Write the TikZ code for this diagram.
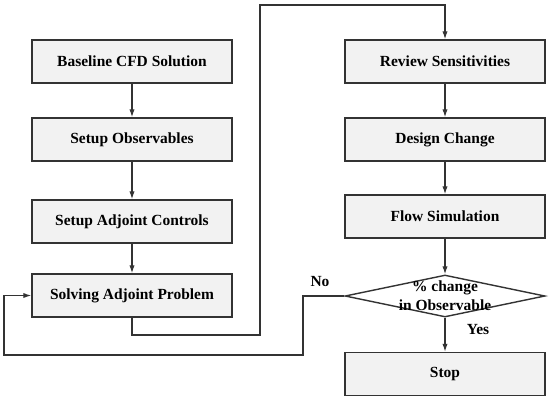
\documentclass[tikz,border=0pt]{standalone}
\usepackage{fontspec}
\setmainfont{Liberation Serif}
\usepackage{xcolor}
\usetikzlibrary{positioning,arrows.meta,shapes.geometric}

\definecolor{boxfill}{HTML}{F2F2F2}
\definecolor{linegray}{HTML}{333333}

\tikzset{
    stepbox/.style={draw=linegray, fill=boxfill, line width=1.2pt,
        minimum width=60mm, minimum height=12.9mm, inner sep=0pt,
        font=\fontsize{13.2pt}{16.2pt}\selectfont\bfseries},
    decision/.style={draw=linegray, fill=white, line width=1.2pt, diamond,
        minimum width=60mm, minimum height=12.6mm, inner sep=0pt},
    flow/.style={draw=linegray, line width=1.1pt,
        -{Latex[length=2.4mm,width=1.6mm]}},
    plain/.style={draw=linegray, line width=1.1pt},
    tag/.style={font=\fontsize{13.2pt}{16.2pt}\selectfont\bfseries}
}

\begin{document}
\begin{tikzpicture}[x=0.3mm, y=-0.3mm]
    \useasboundingbox (0,0) rectangle (550,403);

    \node[stepbox] (base) at (132,61.5) {Baseline CFD Solution};
    \node[stepbox] (obs) at (132,139.5) {Setup Observables};
    \node[stepbox] (ctrl) at (132,221.5) {Setup Adjoint Controls};
    \node[stepbox] (solve) at (132,295.5) {Solving Adjoint Problem};

    \node[stepbox] (review) at (445,61.5) {Review Sensitivities};
    \node[stepbox] (design) at (445,139.5) {Design Change};
    \node[stepbox] (sim) at (445,216.5) {Flow Simulation};
    \node[decision] (check) at (445,296) {};
    \node[tag, align=center] (checktxt) at (check.center) {\% change\\in Observable};
    \node[stepbox] (stop) at (445,374) {Stop};

    \node[tag] (no) at (320,282) {No};
    \node[tag] (yes) at (478,330) {Yes};

    \coordinate (up1) at (260,335);
    \coordinate (up2) at (260,5);
    \coordinate (back1) at (303,355);
    \coordinate (back2) at (4,355);

    \draw[flow] (base) -- (obs);
    \draw[flow] (obs) -- (ctrl);
    \draw[flow] (ctrl) -- (solve);
    \draw[flow] (solve.south) |- (up1) -- (up2) -| (review.north);
    \draw[flow] (review) -- (design);
    \draw[flow] (design) -- (sim);
    \draw[flow] (sim) -- (check);
    \draw[flow] (check) -- (stop);
    \draw[flow] (check.west) -| (back1) -- (back2) |- (solve.west);
\end{tikzpicture}
\end{document}
